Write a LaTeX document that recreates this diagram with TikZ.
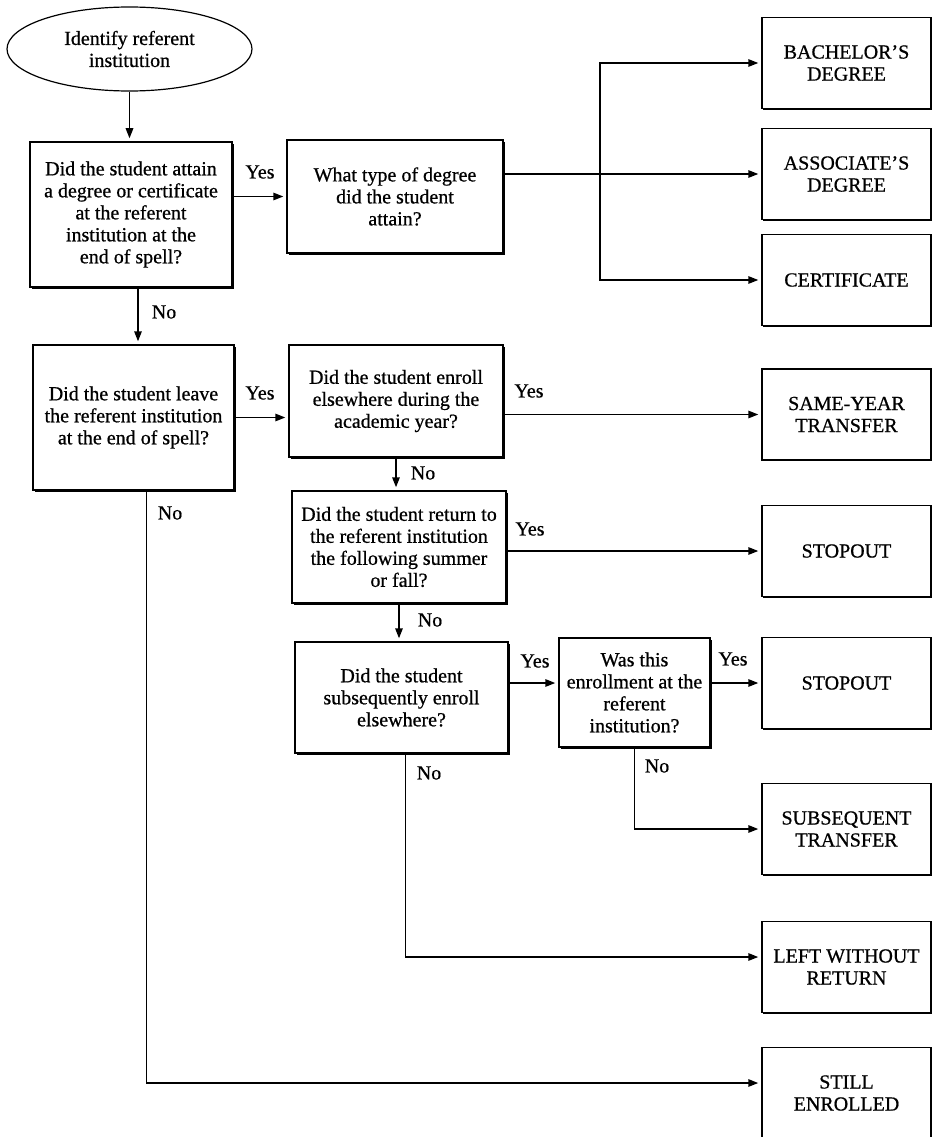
\documentclass[tikz,border=0pt]{standalone}
\usepackage{fontspec}
\setmainfont{Liberation Serif}[BoldFont=Liberation Serif,BoldFeatures={FakeBold=0.7}]
\usetikzlibrary{shapes.geometric,shadows,arrows.meta}

\begin{document}
\begin{tikzpicture}[x=1pt,y=-1pt,->,>={Triangle[length=10pt,width=7.5pt]},shorten >=3pt,line width=1.5pt]
    \tikzstyle{every node}=[font=\fontsize{20}{22}\selectfont\bfseries]
    \tikzstyle{start}=[ellipse,draw,line width=1.2pt,minimum width=245pt,minimum height=84pt,inner sep=0pt,align=center]
    \tikzstyle{question}=[rectangle,draw,fill=white,align=center,inner sep=2pt,
        drop shadow={shadow xshift=1.8pt,shadow yshift=-1.8pt,fill=black,opacity=1}]
    \tikzstyle{outcome}=[rectangle,draw,fill=white,align=center,minimum width=169pt,minimum height=91pt,
        drop shadow={shadow xshift=0.6pt,shadow yshift=-1.2pt,fill=black,opacity=1}]
    \tikzstyle{answer}=[inner sep=0pt]

    \useasboundingbox (0,0) rectangle (933,1137);

    \node[start] (start) at (129.5,49) {Identify referent\\institution};

    % Draw the question boxes
    \node[question,minimum width=202pt,minimum height=145pt] (Q-attain) at (131,214.5)
        {Did the student attain\\a degree or certificate\\at the referent\\institution at the\\end of spell?};
    \node[question,minimum width=216pt,minimum height=113pt] (Q-type) at (395,196.5)
        {What type of degree\\did the student\\attain?};
    \node[question,minimum width=201pt,minimum height=145pt] (Q-leave) at (133.5,417.5)
        {Did the student leave\\the referent institution\\at the end of spell?};
    \node[question,minimum width=214pt,minimum height=112pt] (Q-during) at (396,401)
        {Did the student enroll\\elsewhere during the\\academic year?};
    \node[question,minimum width=214pt,minimum height=112pt] (Q-return) at (399,547)
        {Did the student return to\\the referent institution\\the following summer\\or fall?};
    \node[question,minimum width=213pt,minimum height=111pt] (Q-later) at (401.5,697.5)
        {Did the student\\subsequently enroll\\elsewhere?};
    \node[question,minimum width=151pt,minimum height=109pt] (Q-where) at (634.5,692.5)
        {Was this\\enrollment at the\\referent\\institution?};

    % Draw the outcome boxes
    \foreach \name/\y/\txt in {bach/63/{BACHELOR'S\\DEGREE},assoc/174/{ASSOCIATE'S\\DEGREE},
        cert/280/{CERTIFICATE},same/414.5/{SAME-YEAR\\TRANSFER},stopa/551/{STOPOUT},
        stopb/683/{STOPOUT},subseq/829/{SUBSEQUENT\\TRANSFER},left/967/{LEFT WITHOUT\\RETURN},
        still/1093/{STILL\\ENROLLED}}
        \node[outcome] (O-\name) at (846.5,\y) {\txt};

    % Connect the questions
    \draw (start) -- (start |- Q-attain.north);
    \draw (Q-attain.east |- Q-type.west) -- (Q-type.west);
    \draw ([xshift=7pt]Q-attain.south) -- ([xshift=7pt]Q-attain.south |- Q-leave.north);
    \draw (Q-leave.east) -- (Q-leave.east -| Q-during.west);
    \draw (Q-during.south) -- (Q-during.south |- Q-return.north);
    \draw (Q-return.south) -- (Q-return.south |- Q-later.north);
    \draw (O-stopb.west -| Q-later.east) -- (O-stopb.west -| Q-where.west);

    % Connect the type of degree with the degree boxes
    \coordinate (split) at (600,174);
    \draw (Q-type.east |- O-assoc.west) -- (O-assoc.west);
    \draw[-,shorten >=0pt,line cap=rect] (split |- O-bach.west) -- (split |- O-cert.west);
    \foreach \dest in {bach,cert}
        \draw (split |- O-\dest.west) -- (O-\dest.west);

    % Connect the questions with the outcomes
    \draw (O-same.west -| Q-during.east) -- (O-same.west);
    \draw (O-stopa.west -| Q-return.east) -- (O-stopa.west);
    \draw (O-stopb.west -| Q-where.east) -- (O-stopb.west);
    \draw (Q-where.south) |- (O-subseq.west);
    \draw ([xshift=4pt]Q-later.south) |- ([yshift=10pt]O-left.west);
    \draw ([xshift=13pt]Q-leave.south) |- ([yshift=10pt]O-still.west);

    % Annotate the answers
    \foreach \name/\x/\y/\txt in {a/260/172/Yes,b/164/312/No,c/260/393/Yes,d/170/513/No,
        e/423/473/No,f/529/391/Yes,g/530/529/Yes,h/430/620/No,i/535/661/Yes,
        j/733/659/Yes,k/657/766/No,l/429/773/No}
        \node[answer] (A-\name) at (\x,\y) {\txt};
\end{tikzpicture}
\end{document}
